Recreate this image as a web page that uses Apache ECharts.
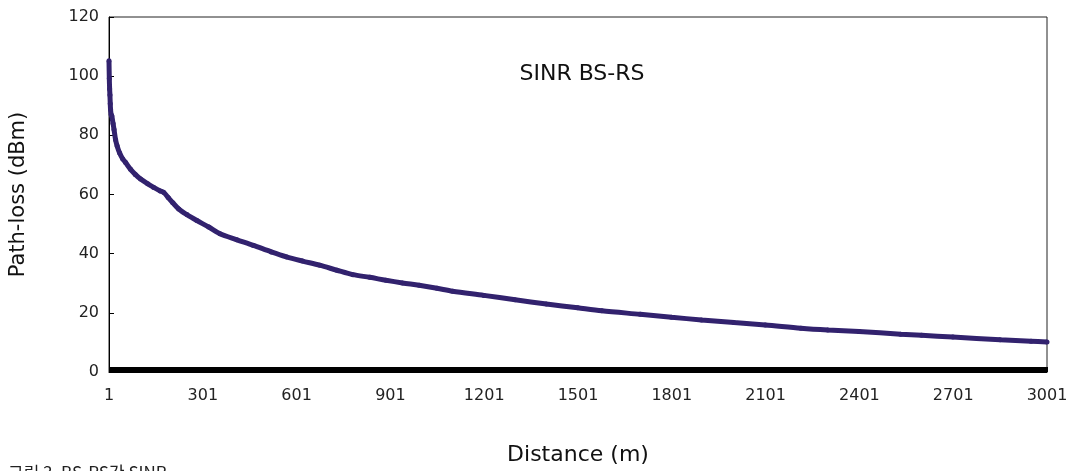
<!DOCTYPE html>
<html>
<head>
<meta charset="utf-8">
<script src="https://cdn.jsdelivr.net/npm/echarts@6/dist/echarts.min.js"></script>
<style>html,body{margin:0;padding:0;background:#fff}#c{width:1074px;height:471px}</style>
</head>
<body>
<div id="c"></div>
<script>
var distances = [1,2,3,4,5,6,8,10,14,17,22,27,35,45,54,70,85,102,125,144,165,176,190,205,224,250,282,320,356,410,463,520,569,620,675,730,781,835,887,940,993,1050,1100,1200,1300,1400,1500,1577,1700,1800,1896,2000,2100,2214,2300,2400,2533,2600,2700,2851,2950,3001];
var sinrValues = [105.2,99.2,95.7,93.6,90.7,88.7,87.0,86.5,84.0,82.0,78.5,76.4,74.0,72.0,70.8,68.5,66.8,65.2,63.6,62.4,61.2,60.7,59.0,57.2,55.1,53.2,51.2,49.0,46.7,44.7,42.8,40.6,38.9,37.5,36.1,34.4,32.9,32.0,31.0,30.1,29.3,28.3,27.3,25.9,24.4,23.0,21.7,20.7,19.5,18.5,17.6,16.7,15.9,14.8,14.2,13.7,12.8,12.4,11.8,10.9,10.4,10.1];
var xTickLabels = [1,301,601,901,1201,1501,1801,2101,2401,2701,3001];
var yTickLabels = [0,20,40,60,80,100,120];

var denseTicks = [];
for (var t = 1; t <= 3001; t += 3) denseTicks.push(t);

var seriesData = distances.map(function (d, i) { return [d, sinrValues[i]]; });

var chart = echarts.init(document.getElementById('c'), null, {renderer: 'canvas'});
var font = 'DejaVu Sans';
chart.setOption({
  animation: false,
  backgroundColor: '#fff',
  grid: {left: 105, right: 27, top: 17, bottom: 97, show: true, borderColor: '#222', borderWidth: 1},
  title: {
    text: 'SINR BS-RS', left: 577, top: 58, textAlign: 'center',
    textStyle: {fontFamily: font, fontSize: 22, fontWeight: 'normal', color: '#111'}
  },
  xAxis: {
    type: 'value', min: 1, max: 3001,
    name: 'Distance (m)', nameLocation: 'middle', nameGap: 72,
    nameTextStyle: {fontFamily: font, fontSize: 22, color: '#111'},
    axisLine: {show: true, lineStyle: {color: '#000', width: 1}},
    axisTick: {show: true, inside: true, length: 5, customValues: denseTicks, lineStyle: {color: '#000', width: 1}},
    axisLabel: {customValues: xTickLabels, fontFamily: font, fontSize: 16, color: '#222', margin: 16,
      formatter: function (v) { return String(v); }},
    splitLine: {show: false}
  },
  yAxis: {
    type: 'value', min: 0, max: 120, interval: 20,
    name: 'Path-loss (dBm)', nameLocation: 'middle', nameGap: 80, nameRotate: 90,
    nameTextStyle: {fontFamily: font, fontSize: 21, color: '#111'},
    axisLine: {show: true, lineStyle: {color: '#000', width: 1}},
    axisTick: {show: true, inside: true, length: 5, lineStyle: {color: '#000'}},
    axisLabel: {customValues: yTickLabels, fontFamily: font, fontSize: 16, color: '#222', margin: 10,
      formatter: function (v) { return String(v); }},
    splitLine: {show: false}
  },
  series: [{
    type: 'line',
    data: seriesData,
    smooth: 0.3,
    showSymbol: true,
    symbol: 'circle',
    symbolSize: 5,
    itemStyle: {color: '#32226e'},
    lineStyle: {color: '#32226e', width: 5}
  }],
  graphic: [{
    type: 'text', left: 8, top: 464,
    style: {text: '그림 3. BS-RS간 SINR', font: '17px "Noto Sans CJK KR"', fill: '#222'}
  }]
});
</script>
</body>
</html>
